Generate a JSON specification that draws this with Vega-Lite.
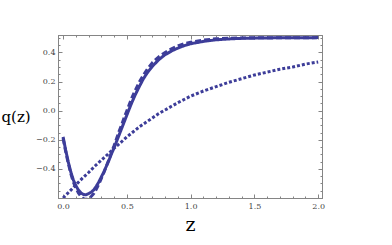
{
 "$schema": "https://vega.github.io/schema/vega-lite/v6.json",
 "width": 264, "height": 163,
 "autosize": {"type": "none"},
 "padding": {"left": 58, "top": 35, "right": 70, "bottom": 47},
 "background": "white",
 "config": {
  "view": {"stroke": null},
  "axis": {"grid": false, "domainColor": "#858585", "tickColor": "#858585", "labelFont": "DejaVu Serif", "labelFontSize": 8, "labelColor": "#444444", "titleFont": "DejaVu Serif", "titleFontWeight": "normal", "titleColor": "#000000"}
 },
 "data": {"values": [
  {"s":"solid","z":0.00,"q":-0.18},{"s":"solid","z":0.02,"q":-0.27},{"s":"solid","z":0.04,"q":-0.35},{"s":"solid","z":0.06,"q":-0.42},{"s":"solid","z":0.08,"q":-0.475},{"s":"solid","z":0.10,"q":-0.515},{"s":"solid","z":0.12,"q":-0.545},{"s":"solid","z":0.14,"q":-0.565},{"s":"solid","z":0.16,"q":-0.576},{"s":"solid","z":0.18,"q":-0.578},{"s":"solid","z":0.20,"q":-0.57},{"s":"solid","z":0.22,"q":-0.56},{"s":"solid","z":0.24,"q":-0.545},{"s":"solid","z":0.26,"q":-0.52},{"s":"solid","z":0.28,"q":-0.49},{"s":"solid","z":0.30,"q":-0.455},{"s":"solid","z":0.32,"q":-0.42},{"s":"solid","z":0.34,"q":-0.38},{"s":"solid","z":0.36,"q":-0.34},{"s":"solid","z":0.38,"q":-0.295},{"s":"solid","z":0.40,"q":-0.255},{"s":"solid","z":0.42,"q":-0.21},{"s":"solid","z":0.44,"q":-0.165},{"s":"solid","z":0.46,"q":-0.12},{"s":"solid","z":0.48,"q":-0.075},{"s":"solid","z":0.50,"q":-0.03},{"s":"solid","z":0.52,"q":0.015},{"s":"solid","z":0.54,"q":0.058},{"s":"solid","z":0.56,"q":0.098},{"s":"solid","z":0.58,"q":0.135},{"s":"solid","z":0.60,"q":0.17},{"s":"solid","z":0.63,"q":0.22},{"s":"solid","z":0.66,"q":0.26},{"s":"solid","z":0.70,"q":0.305},{"s":"solid","z":0.75,"q":0.35},{"s":"solid","z":0.80,"q":0.385},{"s":"solid","z":0.85,"q":0.41},{"s":"solid","z":0.90,"q":0.43},{"s":"solid","z":0.95,"q":0.447},{"s":"solid","z":1.00,"q":0.46},{"s":"solid","z":1.10,"q":0.476},{"s":"solid","z":1.20,"q":0.487},{"s":"solid","z":1.30,"q":0.493},{"s":"solid","z":1.40,"q":0.497},{"s":"solid","z":1.60,"q":0.5},{"s":"solid","z":1.80,"q":0.501},{"s":"solid","z":2.00,"q":0.502},
  {"s":"dashed","z":0.00,"q":-0.19},{"s":"dashed","z":0.02,"q":-0.28},{"s":"dashed","z":0.04,"q":-0.36},{"s":"dashed","z":0.06,"q":-0.43},{"s":"dashed","z":0.08,"q":-0.49},{"s":"dashed","z":0.10,"q":-0.53},{"s":"dashed","z":0.12,"q":-0.565},{"s":"dashed","z":0.14,"q":-0.59},{"s":"dashed","z":0.16,"q":-0.605},{"s":"dashed","z":0.18,"q":-0.61},{"s":"dashed","z":0.20,"q":-0.605},{"s":"dashed","z":0.22,"q":-0.59},{"s":"dashed","z":0.24,"q":-0.57},{"s":"dashed","z":0.26,"q":-0.54},{"s":"dashed","z":0.28,"q":-0.505},{"s":"dashed","z":0.30,"q":-0.465},{"s":"dashed","z":0.32,"q":-0.425},{"s":"dashed","z":0.34,"q":-0.38},{"s":"dashed","z":0.36,"q":-0.335},{"s":"dashed","z":0.38,"q":-0.285},{"s":"dashed","z":0.40,"q":-0.24},{"s":"dashed","z":0.42,"q":-0.19},{"s":"dashed","z":0.44,"q":-0.14},{"s":"dashed","z":0.46,"q":-0.095},{"s":"dashed","z":0.48,"q":-0.045},{"s":"dashed","z":0.50,"q":0.0},{"s":"dashed","z":0.52,"q":0.045},{"s":"dashed","z":0.54,"q":0.09},{"s":"dashed","z":0.56,"q":0.13},{"s":"dashed","z":0.58,"q":0.165},{"s":"dashed","z":0.60,"q":0.2},{"s":"dashed","z":0.63,"q":0.245},{"s":"dashed","z":0.66,"q":0.285},{"s":"dashed","z":0.70,"q":0.33},{"s":"dashed","z":0.75,"q":0.37},{"s":"dashed","z":0.80,"q":0.40},{"s":"dashed","z":0.85,"q":0.425},{"s":"dashed","z":0.90,"q":0.445},{"s":"dashed","z":0.95,"q":0.46},{"s":"dashed","z":1.00,"q":0.47},{"s":"dashed","z":1.10,"q":0.485},{"s":"dashed","z":1.20,"q":0.494},{"s":"dashed","z":1.30,"q":0.498},{"s":"dashed","z":1.50,"q":0.501},{"s":"dashed","z":2.00,"q":0.502},
  {"s":"dotted","z":0.00,"q":-0.60},{"s":"dotted","z":0.05,"q":-0.555},{"s":"dotted","z":0.10,"q":-0.51},{"s":"dotted","z":0.15,"q":-0.465},{"s":"dotted","z":0.20,"q":-0.425},{"s":"dotted","z":0.25,"q":-0.38},{"s":"dotted","z":0.30,"q":-0.34},{"s":"dotted","z":0.35,"q":-0.30},{"s":"dotted","z":0.40,"q":-0.258},{"s":"dotted","z":0.45,"q":-0.22},{"s":"dotted","z":0.50,"q":-0.18},{"s":"dotted","z":0.55,"q":-0.145},{"s":"dotted","z":0.60,"q":-0.11},{"s":"dotted","z":0.65,"q":-0.08},{"s":"dotted","z":0.70,"q":-0.05},{"s":"dotted","z":0.75,"q":-0.02},{"s":"dotted","z":0.80,"q":0.005},{"s":"dotted","z":0.85,"q":0.03},{"s":"dotted","z":0.90,"q":0.055},{"s":"dotted","z":1.00,"q":0.10},{"s":"dotted","z":1.10,"q":0.135},{"s":"dotted","z":1.20,"q":0.165},{"s":"dotted","z":1.30,"q":0.195},{"s":"dotted","z":1.40,"q":0.22},{"s":"dotted","z":1.50,"q":0.245},{"s":"dotted","z":1.60,"q":0.265},{"s":"dotted","z":1.70,"q":0.285},{"s":"dotted","z":1.80,"q":0.30},{"s":"dotted","z":1.90,"q":0.32},{"s":"dotted","z":2.00,"q":0.335}
 ]},
 "layer": [
  {
   "mark": {"type": "line", "clip": true, "color": "#3d3d99", "strokeWidth": 3},
   "encoding": {
    "x": {"field": "z", "type": "quantitative", "scale": {"domain": [-0.04, 2.03], "nice": false, "zero": false},
      "axis": {"orient": "bottom", "values": [0, 0.5, 1, 1.5, 2], "format": ".1f", "ticks": false, "labelPadding": 4, "title": "z", "titleFontSize": 19, "titleY": 32, "titleBaseline": "alphabetic"}},
    "y": {"field": "q", "type": "quantitative", "scale": {"domain": [-0.6, 0.52], "nice": false, "zero": false},
      "axis": {"orient": "left", "values": [-0.4, -0.2, 0, 0.2, 0.4], "format": ".1f", "ticks": false, "labelPadding": 3, "title": "q(z)", "titleAngle": 0, "titleAlign": "left", "titleX": -57, "titleY": 86, "titleBaseline": "alphabetic", "titleFontSize": 15}},
    "strokeDash": {"field": "s", "type": "nominal", "scale": {"domain": ["solid", "dashed", "dotted"], "range": [[1, 0], [6, 3], [3, 2]]}, "legend": null}
   }
  },
  {
   "mark": {"type": "point", "opacity": 0},
   "encoding": {
    "x": {"field": "z", "type": "quantitative", "axis": {"orient": "bottom", "values": [0, 0.5, 1, 1.5, 2], "labels": false, "tickSize": -4, "title": null}},
    "y": {"field": "q", "type": "quantitative", "axis": {"orient": "left", "values": [-0.4, -0.2, 0, 0.2, 0.4], "labels": false, "tickSize": -4, "title": null}}
   }
  },
  {
   "mark": {"type": "point", "opacity": 0},
   "encoding": {
    "x": {"field": "z", "type": "quantitative", "axis": {"orient": "bottom", "values": [0.1,0.2,0.3,0.4,0.6,0.7,0.8,0.9,1.1,1.2,1.3,1.4,1.6,1.7,1.8,1.9], "labels": false, "tickSize": -2, "title": null}},
    "y": {"field": "q", "type": "quantitative", "axis": {"orient": "left", "values": [-0.55,-0.5,-0.45,-0.35,-0.3,-0.25,-0.15,-0.1,-0.05,0.05,0.1,0.15,0.25,0.3,0.35,0.45,0.5], "labels": false, "tickSize": -2, "title": null}}
   }
  },
  {
   "mark": {"type": "point", "opacity": 0},
   "encoding": {
    "x": {"field": "z", "type": "quantitative", "axis": {"orient": "top", "values": [0, 0.5, 1, 1.5, 2], "labels": false, "tickSize": -4, "title": null}},
    "y": {"field": "q", "type": "quantitative", "axis": {"orient": "right", "values": [-0.4, -0.2, 0, 0.2, 0.4], "labels": false, "tickSize": -4, "title": null}}
   }
  },
  {
   "mark": {"type": "point", "opacity": 0},
   "encoding": {
    "x": {"field": "z", "type": "quantitative", "axis": {"orient": "top", "values": [0.1,0.2,0.3,0.4,0.6,0.7,0.8,0.9,1.1,1.2,1.3,1.4,1.6,1.7,1.8,1.9], "labels": false, "tickSize": -2, "title": null}},
    "y": {"field": "q", "type": "quantitative", "axis": {"orient": "right", "values": [-0.55,-0.5,-0.45,-0.35,-0.3,-0.25,-0.15,-0.1,-0.05,0.05,0.1,0.15,0.25,0.3,0.35,0.45,0.5], "labels": false, "tickSize": -2, "title": null}}
   }
  }
 ],
 "resolve": {"axis": {"x": "independent", "y": "independent"}}
}
